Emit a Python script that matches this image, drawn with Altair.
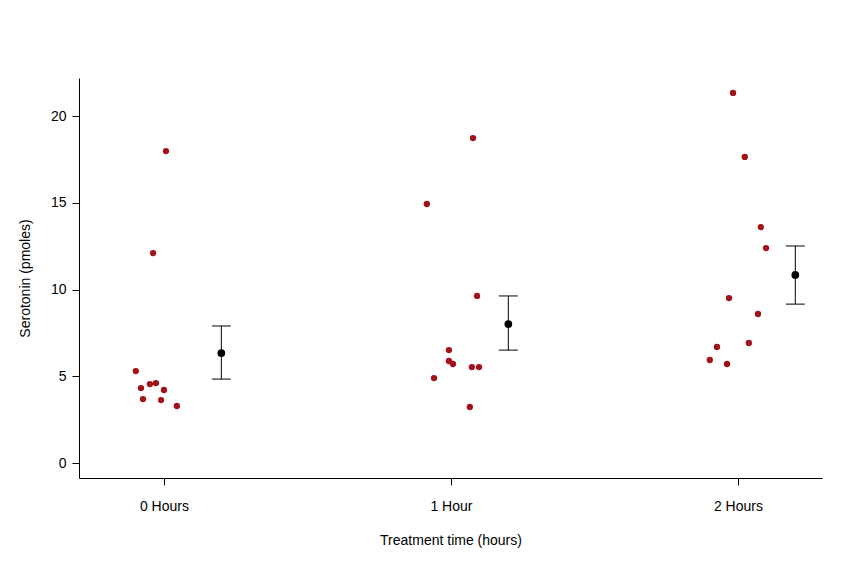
import altair as alt
import pandas as pd

groups = ["0 Hours", "1 Hour", "2 Hours"]

# jittered x offsets and serotonin values
g0_dx = [-0.098, -0.080, -0.073, -0.049, -0.038, -0.028, -0.010, 0.000, 0.007, 0.045]
g0_y = [5.30, 4.32, 3.69, 4.55, 12.10, 4.61, 3.63, 4.21, 17.98, 3.29]
g1_dx = [-0.084, -0.059, -0.007, -0.007, 0.007, 0.066, 0.073, 0.077, 0.091, 0.098]
g1_y = [14.93, 4.90, 6.51, 5.88, 5.71, 3.23, 5.53, 18.73, 9.63, 5.53]
g2_dx = [-0.098, -0.073, -0.038, -0.031, -0.017, 0.024, 0.038, 0.070, 0.080, 0.098]
g2_y = [5.94, 6.69, 5.71, 9.51, 21.33, 17.64, 6.92, 8.59, 13.60, 12.39]

means = [6.34, 8.01, 10.84]
lows = [4.84, 6.51, 9.16]
highs = [7.90, 9.63, 12.51]

rows = []
for i, (dx, ys) in enumerate([(g0_dx, g0_y), (g1_dx, g1_y), (g2_dx, g2_y)]):
    for d, v in zip(dx, ys):
        rows.append({"x": i + 1 + d, "y": v})
pts = pd.DataFrame(rows)

summ = pd.DataFrame({
    "x": [i + 1.2 for i in range(3)],
    "mean": means, "lo": lows, "hi": highs,
})
summ["xl"] = summ["x"] - 0.033
summ["xr"] = summ["x"] + 0.033

xscale = alt.Scale(domain=[0.704, 3.293], nice=False, zero=False)
yscale = alt.Scale(domain=[-0.86, 22.19], nice=False, zero=False)

xax = alt.Axis(values=[1, 2, 3], title="Treatment time (hours)",
               labelExpr="datum.value == 1 ? '0 Hours' : datum.value == 2 ? '1 Hour' : '2 Hours'",
               labelPadding=14, titlePadding=20)
yax = alt.Axis(values=[0, 5, 10, 15, 20], title="Serotonin (pmoles)",
               labelPadding=6, titlePadding=18)

points = alt.Chart(pts).mark_circle(size=40, color="#A3121A", opacity=1).encode(
    x=alt.X("x:Q", scale=xscale, axis=xax),
    y=alt.Y("y:Q", scale=yscale, axis=yax),
)

base = alt.Chart(summ)
stem = base.mark_rule(color="black", strokeWidth=1).encode(
    x=alt.X("x:Q", scale=xscale), y=alt.Y("lo:Q", scale=yscale), y2="hi:Q")
cap_hi = base.mark_rule(color="black", strokeWidth=1).encode(
    x=alt.X("xl:Q", scale=xscale), x2="xr:Q", y=alt.Y("hi:Q", scale=yscale))
cap_lo = base.mark_rule(color="black", strokeWidth=1).encode(
    x=alt.X("xl:Q", scale=xscale), x2="xr:Q", y=alt.Y("lo:Q", scale=yscale))
mean_pt = base.mark_circle(size=60, color="black", opacity=1).encode(
    x=alt.X("x:Q", scale=xscale), y=alt.Y("mean:Q", scale=yscale))

chart = (
    alt.layer(points, stem, cap_hi, cap_lo, mean_pt)
    .properties(width=743, height=400, autosize="none",
                padding={"left": 71, "top": 70, "right": 34, "bottom": 90},
                background="white")
    .configure_axis(
        grid=False, domainColor="black", tickColor="black", tickSize=7,
        labelFont="Liberation Sans", titleFont="Liberation Sans",
        labelFontSize=14, titleFontSize=14, labelColor="black", titleColor="black",
        titleFontWeight="normal",
    )
    .configure_view(stroke=None)
)

chart.save("out.html", embed_options={"renderer": "svg", "actions": False})
